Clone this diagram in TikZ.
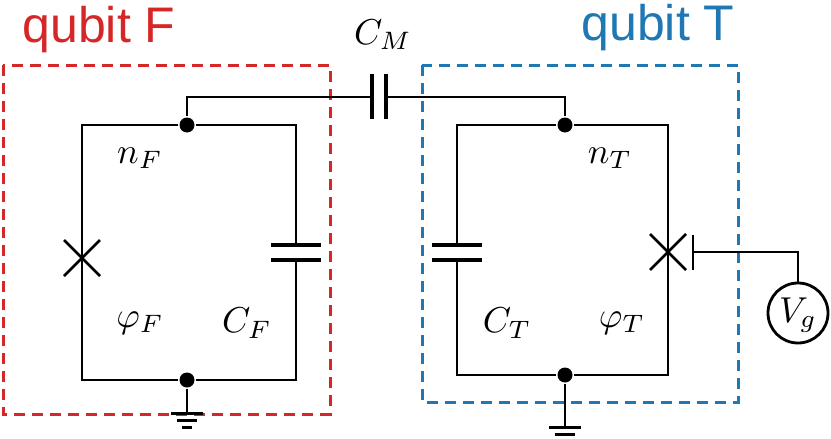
\documentclass[tikz,border=0pt]{standalone}
\usepackage{fontspec}
\newfontfamily\labfont{Liberation Sans}
\begin{document}
\begin{tikzpicture}[x=1pt,y=-1pt,line width=2.8pt,
  dotn/.style={circle,fill=black,inner sep=0pt,minimum size=15pt},
  lab/.style={scale=3.6,inner sep=0pt},
  qlab/.style={font=\labfont\fontsize{50}{56}\selectfont},
  plate/.style={line width=4.5pt}]
\definecolor{tred}{RGB}{214,39,40}
\definecolor{tblue}{RGB}{31,119,180}
\useasboundingbox (0,0) rectangle (831,439);
% boxes
\draw[draw=tred,dash pattern=on 11pt off 7pt,line width=3pt] (3,65) rectangle (330,414);
\draw[draw=tblue,dash pattern=on 11pt off 7pt,line width=3pt] (422,65) rectangle (738,402);
\node[qlab,text=tred] (qf) at (99,30) {qubit F};
\node[qlab,text=tblue] (qt) at (658,28) {qubit T};
% nodes
\node[dotn] (nf) at (187,125) {};
\node[dotn] (gf) at (187,380) {};
\node[dotn] (nt) at (565,125) {};
\node[dotn] (gt) at (565,375) {};
% left loop
\draw (nf) -- (82,125) -- (82,380) -- (gf) -- (296,380) -- (296,260);
\draw (296,245) -- (296,125) -- (nf);
\draw[plate] (271,245) -- (321,245) (271,260) -- (321,260);
\draw (64,240) -- (100,276) (64,276) -- (100,240);
% right loop
\draw (nt) -- (457,125) -- (457,245);
\draw (457,260) -- (457,375) -- (gt) -- (668,375) -- (668,125) -- (nt);
\draw[plate] (432,245) -- (482,245) (432,260) -- (482,260);
\draw (650,234) -- (686,270) (650,270) -- (686,234);
% gate
\draw (693,235) -- (693,270);
\node[draw,circle,minimum size=60pt,inner sep=0pt] (vg) at (798,313) {};
\node[lab] (vgl) at (798,315) {$V_g$};
\draw (693,252) -- (798,252) -- (vg.north);
% coupler
\draw (nf) -- (187,97) -- (372,97);
\draw (386,97) -- (565,97) -- (nt);
\draw[plate] (372,74) -- (372,119) (386,74) -- (386,119);
\node[lab] (cm) at (383,35) {$C_M$};
% grounds
\foreach \n/\y in {gf/413,gt/427}{
  \draw (\n) -- (\n|-0,\y);
  \draw[line width=3pt] ([xshift=-16pt]\n|-0,\y) -- ([xshift=16pt]\n|-0,\y);
  \draw[line width=3pt] ([xshift=-10pt,yshift=-7pt]\n|-0,\y) -- ([xshift=10pt,yshift=-7pt]\n|-0,\y);
  \draw[line width=3pt] ([xshift=-5pt,yshift=-14pt]\n|-0,\y) -- ([xshift=5pt,yshift=-14pt]\n|-0,\y);
}
% labels
\node[lab] (lnf) at (140,158) {$n_F$};
\node[lab] (lpf) at (140,323) {$\varphi_F$};
\node[lab] (lcf) at (247,323) {$C_F$};
\node[lab] (lct) at (507,323) {$C_T$};
\node[lab] (lpt) at (622,323) {$\varphi_T$};
\node[lab] (lnt) at (610,158) {$n_T$};
\end{tikzpicture}
\end{document}
